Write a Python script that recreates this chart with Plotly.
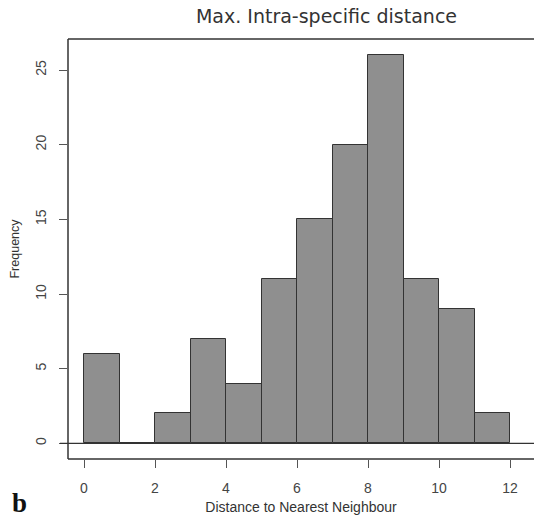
import plotly.graph_objects as go

bin_left = [0, 1, 2, 3, 4, 5, 6, 7, 8, 9, 10, 11]
bin_width = 1
counts = [6, 0, 2, 7, 4, 11, 15, 20, 26, 11, 9, 2]
x_ticks = [0, 2, 4, 6, 8, 10, 12]
y_ticks = [0, 5, 10, 15, 20, 25]

# the page's default body margin is removed below, so the figure fills the window
OFF = 0
W, H = 534 - OFF, 518 - OFF
L, T, R, B = 68 - OFF, 39 - OFF, 534 - OFF, 459 - OFF

centers = [b + bin_width / 2 for b in bin_left]

fig = go.Figure()
fig.add_trace(go.Bar(
    x=centers, y=counts, width=[bin_width] * len(counts),
    marker=dict(color="#8f8f8f", line=dict(color="#333333", width=1)),
    hoverinfo="x+y",
))

tickfont = dict(family="Liberation Sans, Arial", size=14, color="#444444")
fig.update_layout(
    width=W, height=H,
    margin=dict(l=L, r=W - R, t=T, b=H - B),
    paper_bgcolor="white", plot_bgcolor="white",
    showlegend=False,
    bargap=0,
    xaxis=dict(
        range=[-0.451, 12.676], tickvals=x_ticks, ticks="outside", ticklen=8,
        tickcolor="#555555", tickwidth=1, showgrid=False, zeroline=False,
        showline=False, tickfont=tickfont, ticklabelstandoff=8,
        title=dict(text="Distance to Nearest Neighbour",
                   font=dict(family="Liberation Sans, Arial", size=14, color="#333333"),
                   standoff=7),
    ),
    yaxis=dict(
        range=[-1.05, 27.08], tickvals=y_ticks, ticks="outside", ticklen=8,
        tickcolor="#555555", tickwidth=1, showgrid=False, zeroline=False,
        showline=False, tickangle=-90, tickfont=tickfont, ticklabelstandoff=7,
        title=dict(text="Frequency",
                   font=dict(family="Liberation Sans, Arial", size=12.5, color="#333333"),
                   standoff=11),
    ),
    title=dict(text="Max. Intra-specific distance", x=(326.5 - OFF) / W, xanchor="center",
               y=1 - (16 - OFF) / H, yanchor="middle",
               font=dict(family="DejaVu Sans, Verdana", size=19, color="#333333")),
)

# box (left, top, bottom; right edge lies beyond the picture)
box = dict(color="#333333", width=1.5)
fig.add_shape(type="line", xref="paper", yref="paper", x0=0, x1=0, y0=0, y1=1, line=box)
fig.add_shape(type="line", xref="paper", yref="paper", x0=0, x1=1, y0=1, y1=1, line=box)
fig.add_shape(type="line", xref="paper", yref="paper", x0=0, x1=1, y0=0, y1=0, line=box)
# baseline at zero
fig.add_shape(type="line", xref="paper", yref="y", x0=-8 / (R - L), x1=1, y0=0, y1=0,
              line=dict(color="#333333", width=1.2))

fig.add_annotation(text="<b>b</b>", xref="paper", yref="paper",
                   x=(19.5 - OFF - L) / (R - L), y=-(503 - OFF - B) / (B - T),
                   showarrow=False, xanchor="center", yanchor="middle",
                   font=dict(family="Liberation Serif, DejaVu Serif", size=27, color="#111111"))

fig.write_html("out.html", config={"displayModeBar": False},
               post_script="document.body.style.margin='0';document.body.style.overflow='hidden';")
